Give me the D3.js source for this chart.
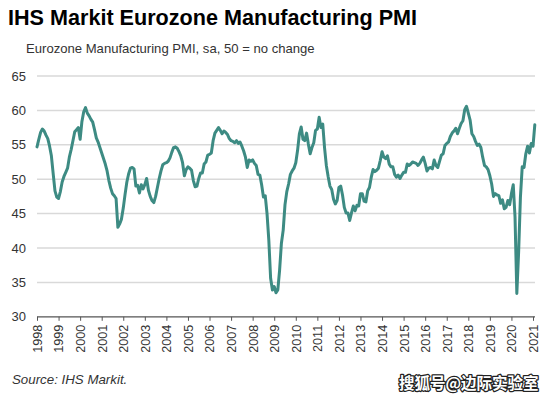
<!DOCTYPE html>
<html><head><meta charset="utf-8">
<script src="https://cdn.jsdelivr.net/npm/d3@7"></script>
<style>
html,body{margin:0;padding:0;background:#fff;}
svg{display:block;}
</style></head>
<body>
<svg id="chart" width="554" height="401"></svg>
<script>
// Monthly PMI values, Jan 1998 .. Feb 2021
const startYear = 1998;
const pmi1998_2007 = [
  54.7, 55.8, 56.8, 57.3, 57.0, 56.4, 55.9, 54.8, 53.4, 50.8, 48.3, 47.4,
  47.2, 48.2, 49.6, 50.4, 51.0, 51.6, 53.2, 54.3, 55.6, 56.9, 57.2, 57.5,
  55.8, 58.4, 59.8, 60.4, 59.6, 59.2, 58.7, 58.3, 57.2, 56.0, 55.4, 54.6,
  53.8, 53.0, 52.2, 51.2, 49.8, 48.7, 47.9, 47.6, 47.2, 43.0, 43.5, 44.2,
  45.8, 47.8, 49.6, 50.8, 51.6, 51.7, 51.5, 49.0, 49.1, 48.0, 49.2, 48.6,
  49.2, 50.1, 48.4, 47.5, 46.9, 46.6, 47.5, 48.8, 50.1, 51.2, 52.1, 52.3,
  52.4, 52.6, 53.1, 53.9, 54.6, 54.7, 54.5, 54.0, 53.4, 52.4, 50.5, 51.4,
  51.8, 51.6, 51.3, 49.8, 48.9, 49.0, 50.1, 50.9, 50.9, 52.2, 52.5, 53.5,
  53.6, 53.8, 55.6, 56.7, 57.1, 57.5, 57.1, 56.6, 57.0, 56.8, 56.5, 55.9,
  55.6, 55.5, 55.3, 55.6, 55.2, 55.4, 54.8, 54.1, 53.2, 51.7, 52.8, 52.6
];
const pmi2008_2021 = [
  52.8, 52.3, 52.0, 50.7, 50.6, 49.2, 47.4, 47.6, 45.0, 41.1, 35.6, 33.9,
  34.4, 33.5, 33.9, 36.8, 40.7, 42.6, 46.3, 48.2, 49.3, 50.7, 51.2, 51.6,
  52.4, 54.2, 56.6, 57.6, 55.8, 55.6, 56.7, 55.1, 53.7, 54.6, 55.3, 57.1,
  57.3, 59.0, 57.5, 58.0, 54.6, 52.0, 50.4, 49.0, 48.5, 47.1, 46.4, 46.9,
  48.8, 49.0, 47.7, 45.9, 45.1, 45.1, 44.0, 45.1, 46.1, 45.4, 46.2, 46.1,
  47.9, 47.9, 46.8, 46.7, 48.3, 48.8, 50.3, 51.4, 51.1, 51.3, 51.6, 52.7,
  54.0, 53.2, 53.0, 53.4, 52.2, 51.8, 51.8, 50.7, 50.3, 50.6, 50.1, 50.6,
  51.0, 51.0, 52.2, 52.0, 52.2, 52.5, 52.4, 52.3, 52.0, 52.3, 52.8, 53.2,
  52.3, 51.2, 51.6, 51.7, 51.5, 52.8, 52.0, 51.7, 52.6, 53.5, 53.7, 54.9,
  55.2, 55.4, 56.2, 56.7, 57.0, 57.4, 56.6, 57.4, 58.1, 58.5, 60.1, 60.6,
  59.6, 58.6, 56.6, 56.2, 55.5, 54.9, 55.1, 54.6, 53.2, 52.0, 51.8, 51.4,
  50.5, 49.3, 47.5, 47.9, 47.7, 47.6, 46.5, 47.0, 45.7, 45.9, 46.9, 46.3,
  47.9, 49.2, 44.5, 33.4, 39.4, 47.4, 51.8, 51.7, 53.7, 54.8, 53.8, 55.2,
  54.8, 57.9
];
const yTicks = [30, 35, 40, 45, 50, 55, 60, 65];
const xTickYears = d3.range(1998, 2022);

const titleText = "IHS Markit Eurozone Manufacturing PMI";
const subtitleText = "Eurozone Manufacturing PMI, sa, 50 = no change";
const sourceText = "Source: IHS Markit.";
const watermarkText = "搜狐号@边际实验室";

const values = pmi1998_2007.concat(pmi2008_2021);
const data = values.map((v, i) => ({ t: startYear + i / 12, v }));

const svg = d3.select("#chart");
const font = "'Liberation Sans', Arial, sans-serif";

const x = d3.scaleLinear().domain([1998, 2021]).range([37, 533]);
const y = d3.scaleLinear().domain([30, 65]).range([316.8, 76]);

// Title & subtitle
svg.append("text").attr("x", 8).attr("y", 25)
  .attr("font-family", font).attr("font-weight", "bold").attr("font-size", 21.6)
  .attr("fill", "#000").text(titleText);
svg.append("text").attr("x", 26).attr("y", 53)
  .attr("font-family", font).attr("font-size", 13.1)
  .attr("fill", "#333").text(subtitleText);

// Gridlines
svg.append("g").selectAll("line").data(yTicks.filter(d => d > 30)).join("line")
  .attr("x1", 37).attr("x2", 535)
  .attr("y1", d => y(d)).attr("y2", d => y(d))
  .attr("stroke", "#d9d9d9").attr("stroke-width", 1.5);

// Y labels
svg.append("g").selectAll("text").data(yTicks).join("text")
  .attr("x", 26).attr("y", d => y(d)).attr("dy", "0.35em")
  .attr("text-anchor", "end")
  .attr("font-family", font).attr("font-size", 13).attr("fill", "#333")
  .text(d => d);

// X axis
const xAxis = d3.axisBottom(x).tickValues(xTickYears).tickFormat(d3.format("d"))
  .tickSize(4).tickSizeOuter(0);
const gx = svg.append("g").attr("transform", `translate(0,${y(30)})`).call(xAxis);
gx.select(".domain").attr("stroke", "#555").attr("stroke-width", 1.2)
  .attr("d", `M37,0H535`);
gx.selectAll(".tick line").attr("stroke", "#555");
gx.selectAll(".tick text")
  .attr("font-family", font).attr("font-size", 12.6).attr("fill", "#333")
  .attr("transform", "rotate(-90)")
  .attr("text-anchor", "end")
  .attr("x", -8).attr("y", 0).attr("dy", "0.35em");

// Line
const line = d3.line().x(d => x(d.t)).y(d => y(d.v)).curve(d3.curveLinear);
svg.append("path").datum(data)
  .attr("d", line).attr("fill", "none")
  .attr("stroke", "#3d8b83").attr("stroke-width", 3)
  .attr("stroke-linejoin", "round").attr("stroke-linecap", "round");

// Source
svg.append("text").attr("x", 12).attr("y", 384)
  .attr("font-family", font).attr("font-style", "italic").attr("font-size", 13.3)
  .attr("fill", "#333").text(sourceText);

// Watermark
svg.append("text").attr("x", 399).attr("y", 389)
  .attr("font-family", "'Noto Sans CJK SC', sans-serif").attr("font-weight", "bold")
  .attr("font-size", 15.5)
  .attr("fill", "#fff").attr("stroke", "#222").attr("stroke-width", 2.5)
  .attr("paint-order", "stroke").attr("stroke-linejoin", "round")
  .text(watermarkText);
</script>
</body></html>
